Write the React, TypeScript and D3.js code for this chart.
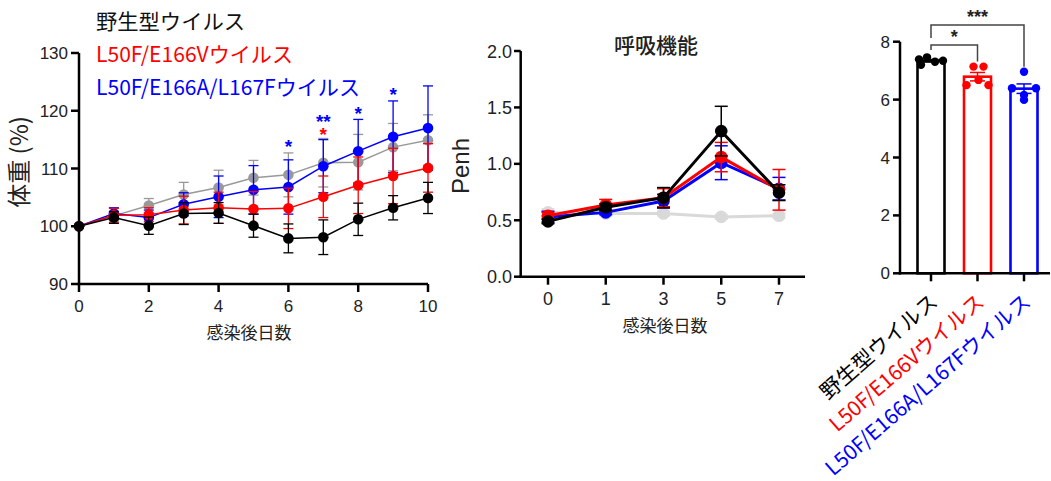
import React from "react";
import * as d3 from "d3";

// ---------- Data ----------
const weightDays = [0, 1, 2, 3, 4, 5, 6, 7, 8, 9, 10];
const weightTicks = [0, 2, 4, 6, 8, 10];
const weightYTicks = [90, 100, 110, 120, 130];
const mockWeight = [100, 101.8, 103.6, 105.5, 106.7, 108.4, 108.9, 111.0, 111.1, 113.7, 114.9];
const mockWeightErr = [0, 0.8, 1.2, 2.1, 3.0, 3.0, 3.8, 4.2, 4.8, 4.1, 4.4];
const wtWeight = [100, 101.5, 100.1, 102.2, 102.3, 100.1, 97.9, 98.1, 101.2, 103.2, 104.9];
const wtWeightErr = [0, 1.0, 1.5, 1.9, 1.8, 2.0, 2.5, 3.0, 2.8, 2.1, 2.7];
const e166vWeight = [100, 101.9, 102.0, 102.8, 103.2, 103.0, 103.1, 105.1, 107.1, 108.7, 110.1];
const e166vWeightErr = [0, 1.2, 1.2, 2.4, 2.7, 3.0, 3.5, 3.6, 4.9, 4.8, 4.2];
const tripleWeight = [100, 102.2, 101.5, 103.8, 105.1, 106.3, 106.8, 110.4, 113.0, 115.5, 117.0];
const tripleWeightErr = [0, 1.0, 1.3, 2.0, 3.6, 4.2, 4.7, 4.6, 5.5, 6.2, 7.3];
const tripleStars = [
  { day: 6, label: "*" },
  { day: 7, label: "**" },
  { day: 8, label: "*" },
  { day: 9, label: "*" },
];
const e166vStars = [{ day: 7, label: "*" }];

const penhDays = ["0", "1", "3", "5", "7"];
const penhYTicks = [0, 0.5, 1.0, 1.5, 2.0];
const mockPenh = [0.57, 0.56, 0.56, 0.53, 0.54];
const mockPenhErr = [0.03, 0.02, 0.02, 0.02, 0.02];
const wtPenh = [0.49, 0.615, 0.7, 1.29, 0.745];
const wtPenhErr = [0.02, 0.03, 0.09, 0.22, 0.07];
const e166vPenh = [0.54, 0.635, 0.7, 1.06, 0.77];
const e166vPenhErr = [0.03, 0.05, 0.08, 0.13, 0.18];
const triplePenh = [0.53, 0.57, 0.67, 1.01, 0.78];
const triplePenhErr = [0.05, 0.02, 0.06, 0.15, 0.1];

const barGroups = ["野生型ウイルス", "L50F/E166Vウイルス", "L50F/E166A/L167Fウイルス"];
const barYTicks = [0, 2, 4, 6, 8];
const wtTiter = [7.39, 7.2, 7.46, 7.31, 7.34];
const e166vTiter = [6.5, 7.14, 6.68, 7.14, 6.5];
const tripleTiter = [6.39, 6.96, 6.16, 5.99, 6.39];
const barSignif = [
  { from: 0, to: 1, label: "*" },
  { from: 0, to: 2, label: "***" },
];

// ---------- Styles ----------
const JP = "'Noto Sans CJK JP', sans-serif";
const LAT = "'Liberation Sans', Arial, sans-serif";
const BLACK = "#000000";
const RED = "#ff0000";
const BLUE = "#0000ff";
const GREY = "#999999";
const LIGHT = "#d9d9d9";

// jitter offsets (px) for dots inside each bar
const dotOffsets = [
  [-12, -10, -4, 4, 12],
  [-11, -4, 1, 6, 11],
  [-12, 0, 0, 0, 12],
];

function ErrorSeries({ xs, ys, errs, x, y, color, r, width, capW, errW }: any) {
  const line = d3
    .line<number>()
    .x((_, i) => x(xs[i]))
    .y((d) => y(d));
  return (
    <g>
      {ys.map((v: number, i: number) => {
        const e = errs[i];
        if (!e) return null;
        const cx = x(xs[i]);
        return (
          <g key={i} stroke={color} strokeWidth={errW}>
            <line x1={cx} x2={cx} y1={y(v - e)} y2={y(v + e)} />
            <line x1={cx - capW} x2={cx + capW} y1={y(v + e)} y2={y(v + e)} />
            <line x1={cx - capW} x2={cx + capW} y1={y(v - e)} y2={y(v - e)} />
          </g>
        );
      })}
      <path d={line(ys) || ""} fill="none" stroke={color} strokeWidth={width} />
      {ys.map((v: number, i: number) => (
        <circle key={i} cx={x(xs[i])} cy={y(v)} r={r} fill={color} />
      ))}
    </g>
  );
}

function WeightChart() {
  const x = d3.scaleLinear().domain([0, 10]).range([79, 428]);
  const y = d3.scaleLinear().domain([90, 130]).range([284, 53]);
  const series = [
    { ys: mockWeight, errs: mockWeightErr, color: GREY },
    { ys: tripleWeight, errs: tripleWeightErr, color: BLUE },
    { ys: e166vWeight, errs: e166vWeightErr, color: RED },
    { ys: wtWeight, errs: wtWeightErr, color: BLACK },
  ];
  // highest error-bar top among all series at a given day (in px)
  const topAt = (day: number) =>
    Math.min(...series.map((s) => y(s.ys[day] + s.errs[day])));
  const STAR_BASE = 11.5; // baseline offset below the visual centre of an asterisk
  const redDays = new Set(e166vStars.map((s) => s.day));
  return (
    <g>
      {series.map((s, k) => (
        <ErrorSeries key={k} xs={weightDays} ys={s.ys} errs={s.errs} x={x} y={y} color={s.color} r={5.3} width={1.5} capW={5} errW={1.3} />
      ))}
      {/* axes */}
      <g stroke="#000" strokeWidth={2.5} fill="none">
        <line x1={x(0)} x2={x(0)} y1={y(130)} y2={y(90) + 1.2} />
        <line x1={x(0) - 1.2} x2={x(10)} y1={y(90)} y2={y(90)} />
        {weightYTicks.map((t) => (
          <line key={t} x1={x(0) - 8} x2={x(0)} y1={y(t)} y2={y(t)} />
        ))}
        {weightTicks.map((t) => (
          <line key={t} x1={x(t)} x2={x(t)} y1={y(90)} y2={y(90) + 8} />
        ))}
      </g>
      <g fontFamily={LAT} fontSize={17} fill="#222">
        {weightYTicks.map((t) => (
          <text key={t} x={x(0) - 11} y={y(t) + 6} textAnchor="end">{t}</text>
        ))}
        {weightTicks.map((t) => (
          <text key={t} x={x(t)} y={y(90) + 28} textAnchor="middle">{t}</text>
        ))}
      </g>
      <text x={249} y={339} textAnchor="middle" fontFamily={JP} fontSize={17} fill="#222">感染後日数</text>
      <text transform="translate(28,162) rotate(-90)" textAnchor="middle" fontFamily={JP} fontSize={24} fill="#222">体重 (%)</text>
      {/* stars: blue (triple mutant) with red (E166V) stacked below in the same text where both exist */}
      <g fontFamily={LAT} fontSize={19} fontWeight="bold" textAnchor="middle">
        {tripleStars.map((s) => {
          const both = redDays.has(s.day);
          const gap = both ? 22 : 11;
          const red = e166vStars.find((r) => r.day === s.day);
          return (
            <text key={s.day} x={x(s.day)} y={topAt(s.day) - gap + STAR_BASE}>
              <tspan fill={BLUE}>{s.label}</tspan>
              {red ? (
                <tspan x={x(s.day)} dy={gap - 9} fill={RED}>{red.label}</tspan>
              ) : null}
            </text>
          );
        })}
      </g>
      {/* legend */}
      <g fontFamily={JP} fontSize={21}>
        <text x={96} y={29} fill="#111" textLength={149} lengthAdjust="spacingAndGlyphs">野生型ウイルス</text>
        <text x={96} y={62} fill={RED} textLength={197} lengthAdjust="spacingAndGlyphs">L50F/E166Vウイルス</text>
        <text x={96} y={95} fill={BLUE} textLength={264} lengthAdjust="spacingAndGlyphs">L50F/E166A/L167Fウイルス</text>
      </g>
    </g>
  );
}

function PenhChart() {
  const x = d3.scalePoint<string>().domain(penhDays).range([548, 779]);
  const y = d3.scaleLinear().domain([0, 2]).range([276.7, 51]);
  const series = [
    { ys: mockPenh, errs: mockPenhErr, color: LIGHT },
    { ys: triplePenh, errs: triplePenhErr, color: BLUE },
    { ys: e166vPenh, errs: e166vPenhErr, color: RED },
    { ys: wtPenh, errs: wtPenhErr, color: BLACK },
  ];
  return (
    <g>
      {series.map((s, k) => (
        <ErrorSeries key={k} xs={penhDays} ys={s.ys} errs={s.errs} x={x} y={y} color={s.color} r={6.3} width={3} capW={6.5} errW={1.5} />
      ))}
      <g stroke="#000" strokeWidth={2.5} fill="none">
        <line x1={520.7} x2={520.7} y1={y(2)} y2={y(0) + 1.2} />
        <line x1={519.5} x2={805} y1={y(0)} y2={y(0)} />
        {penhYTicks.map((t) => (
          <line key={t} x1={514} x2={520.7} y1={y(t)} y2={y(t)} />
        ))}
        {penhDays.map((t) => (
          <line key={t} x1={x(t)} x2={x(t)} y1={y(0)} y2={y(0) + 8} />
        ))}
      </g>
      <g fontFamily={LAT} fontSize={18} fill="#222">
        {penhYTicks.map((t) => (
          <text key={t} x={512} y={y(t) + 6.5} textAnchor="end">{t.toFixed(1)}</text>
        ))}
        {penhDays.map((t) => (
          <text key={t} x={x(t)} y={y(0) + 28} textAnchor="middle">{t}</text>
        ))}
      </g>
      <text x={665} y={332} textAnchor="middle" fontFamily={JP} fontSize={17} fill="#222">感染後日数</text>
      <text x={656} y={53} textAnchor="middle" fontFamily={JP} fontSize={21} fontWeight={500} fill="#222">呼吸機能</text>
      <text transform="translate(469,166) rotate(-90)" textAnchor="middle" fontFamily={LAT} fontSize={24} fill="#222">Penh</text>
    </g>
  );
}

function BarChart() {
  const x = d3.scalePoint<string>().domain(barGroups).range([931, 1024]);
  const y = d3.scaleLinear().domain([0, 8]).range([273.3, 41.7]);
  const groups = [
    { vals: wtTiter, color: BLACK },
    { vals: e166vTiter, color: RED },
    { vals: tripleTiter, color: BLUE },
  ];
  const cx = (g: string) => x(g) as number;
  const barW = 27;
  const tops = groups.map((g) => y(d3.max(g.vals) as number));
  return (
    <g>
      {groups.map((g, i) => {
        const mean = d3.mean(g.vals) as number;
        const sem = (d3.deviation(g.vals) as number) / Math.sqrt(g.vals.length);
        const c = cx(barGroups[i]);
        return (
          <g key={i}>
            <rect x={c - barW / 2} y={y(mean)} width={barW} height={y(0) - y(mean)} fill="#fff" stroke={g.color} strokeWidth={2.6} />
            <g stroke={g.color} strokeWidth={1.5}>
              <line x1={c} x2={c} y1={y(mean - sem)} y2={y(mean + sem)} />
              <line x1={c - 7.5} x2={c + 7.5} y1={y(mean + sem)} y2={y(mean + sem)} />
              <line x1={c - 7.5} x2={c + 7.5} y1={y(mean - sem)} y2={y(mean - sem)} />
            </g>
            {g.vals.map((v, j) => (
              <circle key={j} cx={c + dotOffsets[i][j]} cy={y(v)} r={4.2} fill={g.color} />
            ))}
          </g>
        );
      })}
      <g stroke="#000" strokeWidth={2.5} fill="none">
        <line x1={900} x2={900} y1={y(8)} y2={y(0) + 1.2} />
        <line x1={898.8} x2={1050} y1={y(0)} y2={y(0)} />
        {barYTicks.map((t) => (
          <line key={t} x1={893} x2={900} y1={y(t)} y2={y(t)} />
        ))}
        {barGroups.map((g) => (
          <line key={g} x1={cx(g)} x2={cx(g)} y1={y(0)} y2={y(0) + 8} />
        ))}
      </g>
      <g fontFamily={LAT} fontSize={17} fill="#222">
        {barYTicks.map((t) => (
          <text key={t} x={890} y={y(t) + 6} textAnchor="end">{t}</text>
        ))}
      </g>
      {/* significance brackets */}
      {barSignif.map((s, k) => {
        const x1 = cx(barGroups[s.from]);
        const x2 = cx(barGroups[s.to]);
        const hy = k === 0 ? 45 : 25;
        const ly = k === 0 ? 50 : 38;
        const ry = tops[s.to] - 5;
        return (
          <g key={k}>
            <path d={`M${x1},${ly}V${hy}H${x2}V${ry}`} fill="none" stroke="#444" strokeWidth={1.5} />
            <text x={(x1 + x2) / 2} y={hy - 2} textAnchor="middle" fontFamily={LAT} fontSize={18} fontWeight="bold" fill="#222">{s.label}</text>
          </g>
        );
      })}
      {/* rotated category labels */}
      <g fontFamily={JP} fontSize={21}>
        {barGroups.map((g, i) => (
          <text key={g} transform={`translate(${cx(g) + 8},${304}) rotate(-41)`} textAnchor="end" fill={groups[i].color}>{g}</text>
        ))}
      </g>
    </g>
  );
}

export default function App() {
  return (
    <div style={{ position: "absolute", left: 0, top: 0 }}>
      <svg width={1051} height={481} style={{ display: "block", background: "#fff" }}>
        <WeightChart />
        <PenhChart />
        <BarChart />
      </svg>
    </div>
  );
}
